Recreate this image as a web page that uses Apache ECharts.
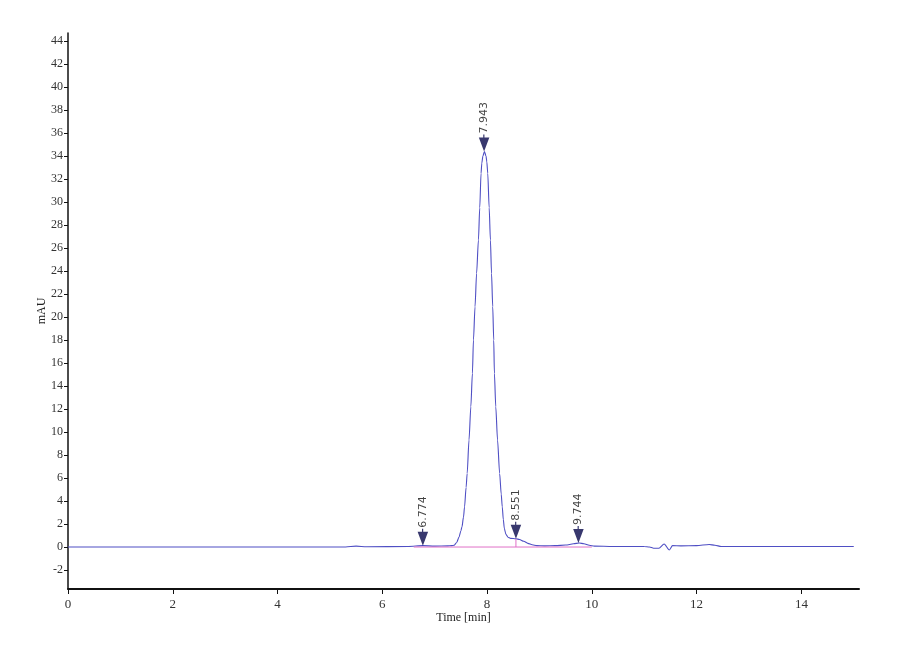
<!DOCTYPE html>
<html>
<head>
<meta charset="utf-8">
<script src="https://cdn.jsdelivr.net/npm/echarts@6/dist/echarts.min.js"></script>
<style>
  html,body{margin:0;padding:0;background:#fff;}
  #chart{width:900px;height:660px;}
</style>
</head>
<body>
<div id="chart"></div>
<script>
// chromatogram trace, time [min] / mAU
var times = [0, 5.3, 5.5, 5.7, 6.5, 6.774, 7.0, 7.25, 7.32, 7.37, 7.42, 7.465, 7.5, 7.52, 7.55, 7.57, 7.6, 7.62,
  7.655, 7.69, 7.72, 7.74, 7.77, 7.8, 7.835, 7.86, 7.885, 7.9, 7.92, 7.95, 7.98, 7.995, 8.013, 8.04, 8.064,
  8.085, 8.108, 8.127, 8.14, 8.166, 8.2, 8.24, 8.27, 8.29, 8.31, 8.33, 8.36, 8.4, 8.45, 8.55, 8.62, 8.7,
  8.78, 8.86, 8.95, 9.1, 9.3, 9.5, 9.65, 9.76, 9.85, 9.95, 10.05, 10.4, 11.0, 11.1, 11.18, 11.28, 11.38,
  11.48, 11.54, 11.7, 12.0, 12.24, 12.35, 12.47, 15.0];
var signal = [0, 0, 0.08, 0.02, 0.05, 0.12, 0.08, 0.1, 0.12, 0.15, 0.4, 0.87, 1.4, 1.74, 2.6, 3.5, 5.2, 6.4,
  9.3, 12.2, 15.1, 18.0, 20.9, 23.8, 26.7, 29.5, 32.5, 33.4, 34.0, 34.4, 34.0, 33.5, 32.5, 29.5, 26.7,
  23.8, 20.9, 18.0, 15.1, 12.2, 9.3, 6.4, 4.6, 3.5, 2.4, 1.6, 1.1, 0.85, 0.75, 0.72, 0.65, 0.5,
  0.32, 0.2, 0.12, 0.1, 0.12, 0.17, 0.28, 0.35, 0.28, 0.15, 0.08, 0.05, 0.04, 0.0, -0.1, -0.1, 0.26,
  -0.26, 0.12, 0.1, 0.12, 0.22, 0.15, 0.05, 0.05];

// integrated peaks
var peakTimes = [6.774, 7.943, 8.551, 9.744];
var peakHeights = [0.12, 34.4, 0.72, 0.35];
var peakLabels = ['6.774', '7.943', '8.551', '9.744'];

// baseline and drop line
var baseTimes = [6.6, 10.0];
var dropTime = 8.551;
var dropTop = 0.72;

var yTicks = [-2, 0, 2, 4, 6, 8, 10, 12, 14, 16, 18, 20, 22, 24, 26, 28, 30, 32, 34, 36, 38, 40, 42, 44];
var xTicks = [0, 2, 4, 6, 8, 10, 12, 14];

var trace = times.map(function(t, i){ return [t, signal[i]]; });
var peaks = peakTimes.map(function(t, i){ return {value: [t, peakHeights[i]], name: peakLabels[i]}; });

var serif = '"Liberation Serif", "DejaVu Serif", serif';
var ec = echarts.init(document.getElementById('chart'));
ec.setOption({
  backgroundColor: '#fff',
  animation: false,
  grid: {left: 68, right: 41, top: 33, bottom: 71},
  xAxis: {
    type: 'value', min: 0, max: 15.1,
    name: 'Time [min]', nameLocation: 'middle', nameGap: 23, nameMoveOverlap: false,
    nameTextStyle: {fontFamily: serif, fontSize: 12, color: '#222'},
    axisLine: {onZero: false, lineStyle: {color: '#111', width: 2}},
    axisTick: {customValues: xTicks, length: 5, lineStyle: {color: '#111'}},
    axisLabel: {customValues: xTicks, margin: 9, fontFamily: serif, fontSize: 13, color: '#333'},
    splitLine: {show: false}
  },
  yAxis: {
    type: 'value', min: -3.65, max: 44.7,
    name: 'mAU', nameLocation: 'middle', nameGap: 20, nameMoveOverlap: false,
    nameTextStyle: {fontFamily: serif, fontSize: 12, color: '#222'},
    axisLine: {show: true, onZero: false, lineStyle: {color: '#111', width: 1.5}},
    axisTick: {show: true, customValues: yTicks, length: 4, lineStyle: {color: '#111'}},
    axisLabel: {customValues: yTicks, margin: 5, fontFamily: serif, fontSize: 12, color: '#333'},
    splitLine: {show: false}
  },
  series: [
    {
      type: 'line', data: trace, showSymbol: false, smooth: 0.25, smoothMonotone: 'x',
      lineStyle: {color: '#4f4fc4', width: 1.1}, z: 2
    },
    {
      type: 'line', data: baseTimes.map(function(t){ return [t, 0]; }), showSymbol: false,
      lineStyle: {color: '#e070c8', width: 1}, z: 3
    },
    {
      type: 'line', data: [[dropTime, 0], [dropTime, dropTop]], showSymbol: false,
      lineStyle: {color: '#e070c8', width: 1}, z: 3
    },
    {
      type: 'scatter', data: peaks, z: 5,
      symbol: 'path://M4.4,0 L5.6,0 L5.6,3 L10.5,3 L5.25,17 L0,3 L4.4,3 Z',
      symbolSize: [10.5, 17], symbolOffset: [0, -8.5],
      itemStyle: {color: '#06064a'},
      label: {
        show: true, position: 'top', distance: 1, rotate: 90,
        align: 'left', verticalAlign: 'middle',
        formatter: function(p){ return p.name; },
        fontFamily: '"DejaVu Sans", sans-serif', fontSize: 11, color: '#111'
      }
    }
  ]
});
</script>
</body>
</html>
